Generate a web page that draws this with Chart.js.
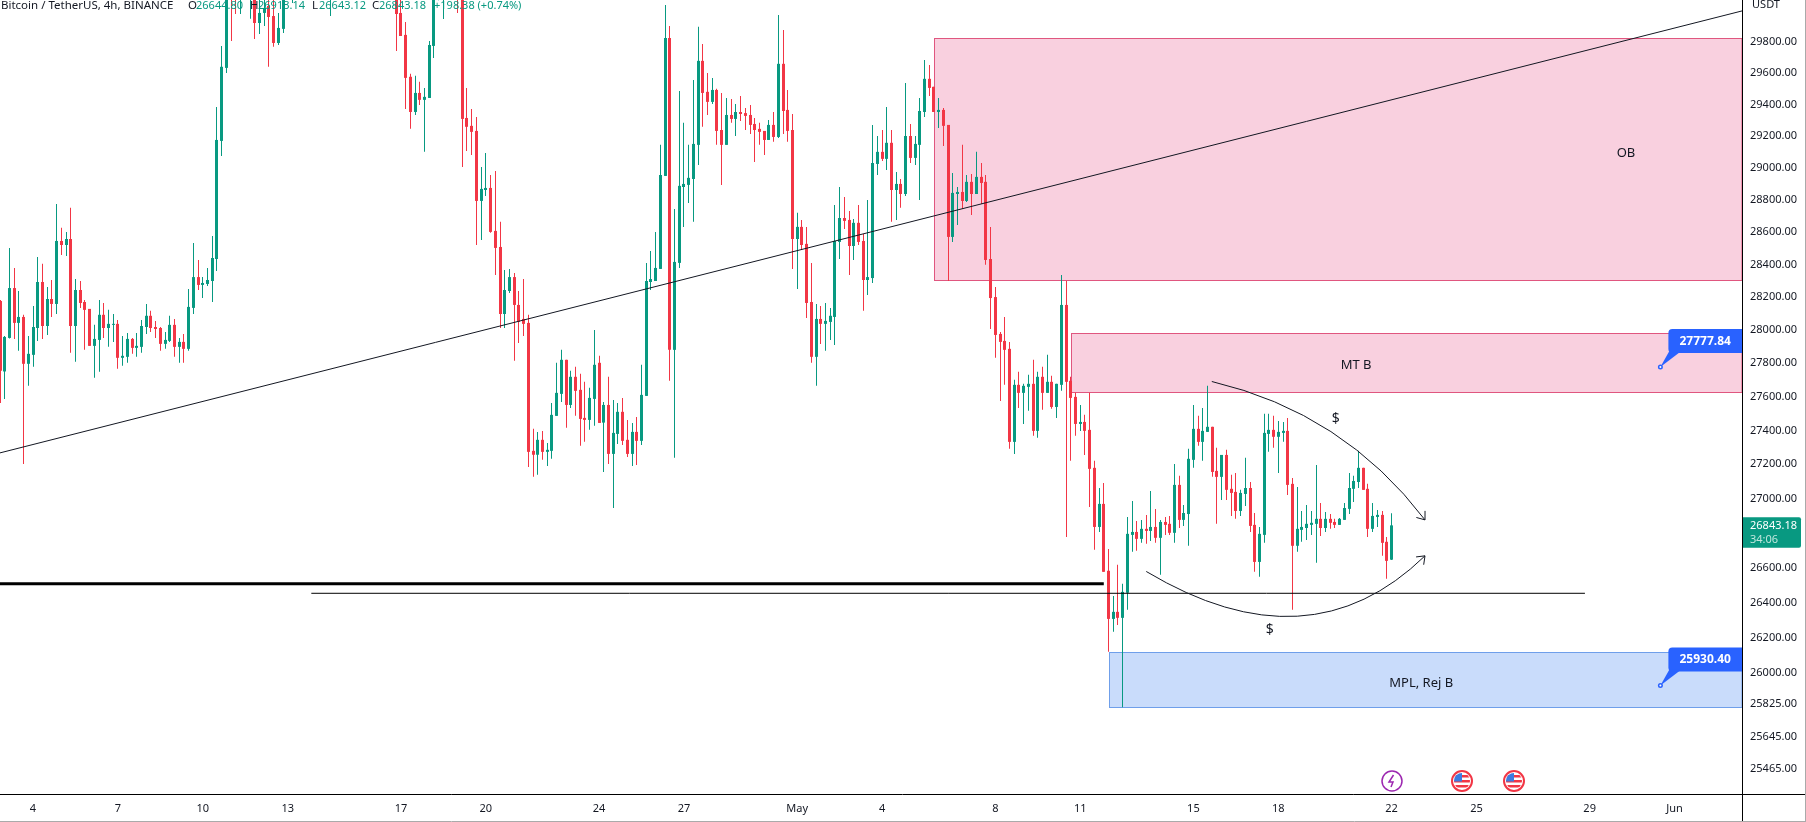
<!DOCTYPE html>
<html>
<head>
<meta charset="utf-8">
<title>BTCUSDT 4h</title>
<script src="https://cdn.jsdelivr.net/npm/chart.js@4"></script>
<style>
  html, body { margin: 0; padding: 0; background: #fff; overflow: hidden; }
  canvas { display: block; }
</style>
</head>
<body>
<canvas id="chart" width="1806" height="822"></canvas>
<script>
// candles, oldest first (values above 30065 sit off the top of the pane)
const opens = [
  28177,27751,27953,28256,28044,28080,27797,27851,28013,28293,
  28025,28189,28159,28545,28520,28557,28025,28244,28171,28129,
  27905,27941,28093,28013,28032,28038,27833,27839,27947,27893,
  27899,28019,28087,28019,28013,27917,27935,28032,27899,27929,
  27887,28135,28323,28275,28281,28299,28434,29169,29633,30250,
  30300,30150,30280,30200,30200,29922,29987,30032,29967,29793,
  29884,30100,30180,30260,30180,30300,30420,30360,30500,30620,
  30300,30480,30380,30450,30360,30520,30660,30820,30620,30450,
  30320,30420,30260,30180,30130,29987,29845,29576,29352,29473,
  29429,29441,29774,30100,30120,30280,30420,30300,30180,29314,
  29264,29232,28793,28861,28874,28607,28508,28098,28238,28323,
  28153,28068,28044,27279,27256,27344,27273,27279,27486,27617,
  27821,27551,27719,27641,27474,27462,27587,27803,27446,27551,
  27261,27379,27510,27344,27261,27391,27338,27605,28293,28299,
  28373,28949,29825,27881,28410,28880,28893,28930,29144,29678,
  29480,29416,29492,29238,29144,29333,29308,29352,29345,29333,
  29276,29245,29232,29175,29270,29194,29659,29365,29238,28557,
  28632,28527,28171,27839,28068,28038,28050,28080,28539,28687,
  28675,28514,28657,28545,28305,28317,29024,29100,29056,29157,
  28861,28899,28836,29200,29062,29144,29352,29563,29512,29352,
  29365,29270,28570,28836,28849,28793,28912,28836,28943,28912,
  28434,28201,27977,27935,27887,27332,27671,27623,27659,27677,
  27397,27719,27623,27689,27539,27671,28153,27695,27599,27438,
  27450,27403,27179,26834,26968,26581,26306,26346,26312,26455,
  26788,26805,26765,26823,26811,26834,26771,26863,26852,26800,
  27079,26875,26909,27226,27409,27332,27391,27421,27161,27126,
  27255,27056,27038,26927,27026,27061,26846,26632,26788,27379,
  27403,27362,27385,27397,27085,26725,26817,26828,26846,26852,
  26881,26828,26881,26863,26846,26875,26939,27056,27096,27179,
  27056,26823,26892,26904,26748,26644.80
];
const highs = [
  28183,27965,28502,28379,28238,28093,27965,28147,28446,28404,
  28262,28305,28774,28626,28601,28750,28311,28299,28183,28129,
  28032,28183,28165,28123,28098,28062,27965,27983,27953,27983,
  28062,28159,28117,28056,28019,27989,28087,28068,27953,27977,
  28250,28533,28428,28323,28379,28576,29384,29774,30200,30300,
  30380,30350,30420,30400,30300,30100,30110,30150,30080,29987,
  30150,30250,30300,30350,30340,30480,30500,30560,30680,30700,
  30560,30600,30520,30560,30600,30720,30900,30950,30700,30550,
  30500,30480,30350,30260,30200,30090,29929,29595,29582,29544,
  29505,29806,30180,30320,30350,30420,30480,30340,30230,29505,
  29371,29320,29005,29093,28955,28980,28663,28367,28373,28348,
  28238,28311,28093,27409,27391,27397,27326,27563,27803,27881,
  27821,27755,27779,27737,27689,27653,28001,27845,27569,27719,
  27581,27563,27593,27462,27444,27480,27791,28410,28483,28601,
  29144,30039,29903,28743,29486,29283,29144,29556,29897,29787,
  29601,29569,29499,29473,29441,29435,29403,29454,29377,29397,
  29314,29283,29232,29301,29352,29974,29877,29492,29339,28719,
  28675,28632,28410,28159,28147,28165,28135,28768,28880,28818,
  28731,28681,28768,28588,28799,29270,29200,29238,29384,29238,
  28974,28930,29537,29276,29200,29441,29684,29652,29512,29441,
  29377,29270,28967,28880,29144,28955,28961,29100,29030,28955,
  28632,28262,27989,28080,27929,27701,27749,27677,27731,27821,
  27749,27779,27851,27725,27677,28336,28299,27719,27623,27551,
  27492,27623,27220,27061,27090,26707,26437,26615,26506,26892,
  26985,26869,26875,26904,27044,26939,26875,26892,26898,27202,
  27132,26962,27291,27551,27486,27533,27665,27421,27297,27255,
  27285,27138,27149,27050,27238,27096,26915,26834,27498,27498,
  27486,27456,27450,27474,27120,27067,26927,26962,26927,27196,
  26973,26921,26909,26881,26886,26973,27149,27132,27279,27179,
  27085,26973,26933,26927,26776,26913.14
];
const lows = [
  27563,27587,27950,27947,27875,27202,27665,27779,27935,27947,
  27971,28080,28098,28459,28453,27863,27809,28135,27881,27905,
  27713,27749,27953,27899,27929,27767,27785,27803,27857,27839,
  27863,27977,27989,27953,27875,27887,27929,27839,27803,27803,
  27875,28098,28244,28195,28268,28171,28361,29074,29601,29806,
  29980,29980,30150,29950,29819,29851,29903,29640,29768,29780,
  29858,30080,30052,30120,30120,30250,30300,30320,30440,30400,
  29967,30300,30320,30300,30300,30480,30600,30560,30400,30250,
  30200,30180,30120,30100,29742,29838,29371,29245,29333,29397,
  29100,29441,29697,30070,29948,30180,30230,29987,29005,29106,
  29081,28520,28551,28824,28595,28336,28013,28013,28226,27815,
  27923,27965,27184,27126,27138,27226,27190,27232,27486,27569,
  27415,27533,27486,27309,27332,27403,27427,27444,27155,27202,
  26944,27320,27314,27243,27190,27196,27314,27605,28244,28299,
  28373,28949,27695,27238,28379,28632,28780,28663,29018,29258,
  29333,29403,29144,28893,29144,29283,29200,29295,29238,29213,
  29037,29144,29081,29175,29163,29188,29213,29163,28373,28250,
  28490,28074,27803,27665,27917,27875,27941,27911,28434,28619,
  28336,28428,28520,28117,28214,28287,28955,29043,28986,28663,
  28675,28750,28824,29030,29018,28799,29320,29454,29352,29251,
  29137,28299,28539,28644,28743,28787,28706,28836,28774,28398,
  28007,27833,27575,27671,27291,27261,27533,27438,27516,27368,
  27356,27522,27623,27528,27474,27635,26776,27220,27368,27397,
  27255,26950,26702,26805,26575,26120,26233,26272,25808,26358,
  26690,26696,26742,26736,26753,26742,26558,26788,26788,26742,
  26828,26840,26725,27179,27309,27220,27391,27126,26852,26991,
  26991,26898,26881,26898,26956,26805,26575,26546,26742,27273,
  27297,27149,27332,27020,26358,26690,26748,26759,26788,26627,
  26782,26805,26823,26828,26846,26875,26909,26979,27061,27050,
  26776,26805,26834,26667,26535,26643.12
];
const closes = [
  27755,27959,28256,28044,28080,27797,27857,28019,28293,28025,
  28189,28159,28545,28520,28557,28025,28244,28165,28123,27905,
  27947,28093,28013,28038,28038,27833,27845,27947,27893,27905,
  28025,28087,28013,28007,27917,27941,28032,27899,27929,27887,
  28141,28323,28275,28287,28305,28440,29175,29640,30100,30120,
  30150,30280,30350,30350,29922,29987,30019,29961,29793,29890,
  30100,30200,30250,30180,30300,30420,30360,30500,30620,30480,
  30480,30380,30450,30360,30520,30660,30820,30620,30450,30320,
  30420,30260,30180,30130,29980,29838,29569,29352,29473,29429,
  29448,29780,30100,30250,30280,30350,30300,30180,29308,29258,
  29226,28793,28868,28874,28601,28502,28098,28244,28323,28153,
  28050,28038,27273,27256,27344,27273,27285,27492,27623,27821,
  27551,27719,27635,27468,27462,27593,27791,27444,27551,27261,
  27385,27510,27338,27261,27391,27338,27611,28299,28311,28379,
  28955,29825,27881,28416,28887,28899,28937,29150,29678,29473,
  29416,29492,29232,29144,29333,29308,29352,29339,29327,29270,
  29238,29226,29175,29270,29194,29659,29358,29232,28557,28632,
  28520,28165,27839,28068,28038,28056,28087,28545,28687,28669,
  28514,28657,28539,28305,28323,29030,29100,29056,29157,28861,
  28899,28836,29200,29062,29150,29358,29563,29505,29352,29365,
  29264,28570,28843,28849,28793,28912,28836,28943,28905,28428,
  28195,27971,27929,27881,27332,27671,27623,27665,27677,27397,
  27719,27623,27689,27539,27677,28153,27689,27593,27438,27450,
  27397,27173,26834,26968,26575,26306,26346,26312,26460,26794,
  26805,26765,26823,26811,26834,26771,26863,26846,26800,27079,
  26875,26915,27232,27409,27332,27397,27421,27155,27126,27255,
  27050,27032,26927,27032,27061,26840,26632,26794,27385,27403,
  27362,27391,27397,27079,26725,26823,26834,26852,26858,26881,
  26828,26881,26858,26846,26881,26944,27061,27102,27179,27050,
  26823,26898,26904,26742,26638,26843.18
];

// axis ticks (x is the candle number, 6 candles a day)
const xTickValues = [7, 25, 43, 61, 85, 103, 127, 145, 169, 187, 211, 229, 253, 271, 295, 313, 337, 355];
const xTickLabels = ["4", "7", "10", "13", "17", "20", "24", "27", "May", "4", "8", "11", "15", "18", "22", "25", "29", "Jun"];
const yTickValues = [25465, 25645, 25825, 26000, 26200, 26400, 26600, 27000, 27200, 27400, 27600, 27800, 28000, 28200, 28400, 28600, 28800, 29000, 29200, 29400, 29600, 29800];

// drawings on the chart
const zoneLabels = ["OB", "MT B", "MPL, Rej B"];
const zoneStarts = [198.1, 227.1, 235];
const zoneTops = [29825, 27981, 26117];
const zoneBottoms = [28305, 27629, 25808];
const zoneTextX = [344.7, 287.5, 301.3];
const zoneTextPrice = [29090, 27786, 25941];
const trendX = [0, 369.3];
const trendY = [27267, 30000];
const thickLevelX = [0, 234];
const thickLevelY = [26506, 26506];
const thinLevelX = [66, 336];
const thinLevelY = [26452, 26452];
const curveStartX = [256.9, 243];
const curveStartY = [27691, 26577];
const curveCtrlX = [284.8, 277.5];
const curveCtrlY = [27506, 26024];
const curveEndX = [302.1, 302.1];
const curveEndY = [26875, 26667];
const dollarX = [283.2, 269.2];
const dollarY = [27468, 26245];
const calloutX = [352, 352];
const calloutPrice = [27777.84, 25930.40];
const eventX = [295, 310, 321];
const eventKind = ["bolt", "us", "us"];

const lastPrice = "26843.18";
const countdown = "34:06";
const titleText = "Bitcoin / TetherUS, 4h, BINANCE";
const ohlcNames = ["O", "H", "L", "C"];
const ohlcValues = ["26644.80", "26913.14", "26643.12", "26843.18"];
const changeText = "+198.38 (+0.74%)";

const UP = "#089981";
const DOWN = "#F23645";
const TEXT = "#131722";
const FONT = '"Noto Sans", sans-serif';

const candleColors = opens.map((o, i) => (closes[i] >= o ? UP : DOWN));

// snap the bars to whole pixels so that the wicks stay 1px sharp
const snapBars = {
  id: "snapBars",
  beforeDatasetsDraw(chart) {
    [0, 1].forEach((index) => {
      chart.getDatasetMeta(index).data.forEach((bar) => {
        bar.x = Math.floor(bar.x) + 0.5;
      });
    });
  },
};

const px = (chart, v) => chart.scales.x.getPixelForValue(v);
const py = (chart, v) => chart.scales.y.getPixelForValue(v);

const drawText = (ctx, text, x, y, font, color, align) => {
  ctx.font = font;
  ctx.fillStyle = color;
  ctx.textAlign = align || "center";
  ctx.textBaseline = "middle";
  ctx.fillText(text, x, y);
};

// pink and blue boxes go under the candles
const zonesBehind = {
  id: "zonesBehind",
  beforeDatasetsDraw(chart) {
    const { ctx, chartArea } = chart;
    ctx.save();
    zoneLabels.forEach((label, i) => {
      const left = Math.round(px(chart, zoneStarts[i])) + 0.5;
      const top = Math.round(py(chart, zoneTops[i])) + 0.5;
      const bottom = Math.round(py(chart, zoneBottoms[i])) + 0.5;
      const isBlue = i === 2;
      ctx.fillStyle = isBlue ? "#C9DCFB" : "#F9D0DF";
      ctx.strokeStyle = isBlue ? "#6F9FEA" : "#E0567F";
      ctx.lineWidth = 1;
      ctx.fillRect(left, top, chartArea.right - left, bottom - top);
      ctx.strokeRect(left, top, chartArea.right - left, bottom - top);
    });
    ctx.restore();
  },
};

const drawCurve = (chart, i) => {
  const { ctx } = chart;
  const x0 = px(chart, curveStartX[i]);
  const y0 = py(chart, curveStartY[i]);
  const cx = px(chart, curveCtrlX[i]);
  const cy = py(chart, curveCtrlY[i]);
  const x1 = px(chart, curveEndX[i]);
  const y1 = py(chart, curveEndY[i]);
  ctx.beginPath();
  ctx.moveTo(x0, y0);
  ctx.quadraticCurveTo(cx, cy, x1, y1);
  ctx.stroke();
  // arrow head
  const angle = Math.atan2(y1 - cy, x1 - cx);
  [-0.65, 0.65].forEach((spread) => {
    ctx.beginPath();
    ctx.moveTo(x1, y1);
    ctx.lineTo(x1 - 9 * Math.cos(angle + spread), y1 - 9 * Math.sin(angle + spread));
    ctx.stroke();
  });
};

const drawCallout = (chart, i) => {
  const { ctx, chartArea } = chart;
  const dotX = px(chart, calloutX[i]);
  const dotY = py(chart, calloutPrice[i]);
  const right = chartArea.right;
  const boxTop = dotY - 38;
  const boxBottom = dotY - 14;
  ctx.fillStyle = "#2962FF";
  ctx.beginPath();
  ctx.roundRect(dotX + 8, boxTop, right - dotX - 8, boxBottom - boxTop, [4, 0, 0, 4]);
  ctx.fill();
  ctx.beginPath();
  ctx.moveTo(dotX + 9, boxBottom - 2);
  ctx.lineTo(dotX + 21, boxBottom - 2);
  ctx.lineTo(dotX, dotY);
  ctx.closePath();
  ctx.fill();
  ctx.beginPath();
  ctx.arc(dotX, dotY, 2.5, 0, Math.PI * 2);
  ctx.fill();
  ctx.fillStyle = "#fff";
  ctx.beginPath();
  ctx.arc(dotX, dotY, 1, 0, Math.PI * 2);
  ctx.fill();
  drawText(ctx, calloutPrice[i].toFixed(2), (dotX + 8 + right) / 2, boxTop + 12.5, `bold 12px ${FONT}`, "#fff");
};

const drawEvent = (chart, i) => {
  const { ctx } = chart;
  const x = Math.round(px(chart, eventX[i]));
  const y = 781;
  ctx.lineWidth = 1.5;
  ctx.beginPath();
  ctx.arc(x, y, 10, 0, Math.PI * 2);
  ctx.fillStyle = "#fff";
  ctx.fill();
  if (eventKind[i] === "bolt") {
    ctx.strokeStyle = "#9C27B0";
    ctx.stroke();
    ctx.beginPath();
    ctx.moveTo(x + 1.5, y - 6);
    ctx.lineTo(x - 3, y + 1);
    ctx.lineTo(x + 1, y + 1);
    ctx.lineTo(x - 1, y + 6);
    ctx.stroke();
    return;
  }
  ctx.strokeStyle = DOWN;
  ctx.lineWidth = 2;
  ctx.stroke();
  ctx.save();
  ctx.beginPath();
  ctx.arc(x, y, 8, 0, Math.PI * 2);
  ctx.clip();
  ctx.fillStyle = DOWN;
  ctx.fillRect(x - 8, y - 6, 16, 2.5);
  ctx.fillRect(x - 8, y - 1, 16, 2.5);
  ctx.fillRect(x - 8, y + 4, 16, 2.5);
  ctx.fillStyle = "#3D7BE0";
  ctx.fillRect(x - 8, y - 8, 8, 8.5);
  ctx.restore();
};

// everything that sits on top of the candles, plus the frame and header
const overlays = {
  id: "overlays",
  afterDatasetsDraw(chart) {
    const { ctx, chartArea, width, height } = chart;
    ctx.save();
    ctx.beginPath();
    ctx.rect(0, 0, chartArea.right, chartArea.bottom);
    ctx.clip();

    ctx.strokeStyle = "#131722";
    ctx.lineWidth = 1;
    curveStartX.forEach((_, i) => drawCurve(chart, i));

    zoneLabels.forEach((label, i) => {
      drawText(ctx, label, px(chart, zoneTextX[i]), py(chart, zoneTextPrice[i]), `13px ${FONT}`, TEXT);
    });
    dollarX.forEach((x, i) => {
      drawText(ctx, "$", px(chart, x), py(chart, dollarY[i]), `14px ${FONT}`, TEXT);
    });
    eventX.forEach((_, i) => drawEvent(chart, i));

    // header, it is written over the candles
    drawText(ctx, titleText, 1, 6, `11.5px ${FONT}`, TEXT, "left");
    const nameX = [188, 250, 312, 372];
    const valueX = [196, 258, 319, 379];
    ohlcNames.forEach((name, i) => {
      drawText(ctx, name, nameX[i], 6, `11.5px ${FONT}`, TEXT, "left");
      drawText(ctx, ohlcValues[i], valueX[i], 6, `11px ${FONT}`, UP, "left");
    });
    drawText(ctx, changeText, 434, 6, `11px ${FONT}`, UP, "left");
    ctx.restore();

    calloutX.forEach((_, i) => drawCallout(chart, i));

    // frame
    ctx.save();
    ctx.strokeStyle = "#000";
    ctx.lineWidth = 1;
    ctx.beginPath();
    ctx.moveTo(chartArea.right + 0.5, 0);
    ctx.lineTo(chartArea.right + 0.5, height);
    ctx.moveTo(0, chartArea.bottom + 0.5);
    ctx.lineTo(width - 1, chartArea.bottom + 0.5);
    ctx.stroke();
    ctx.strokeStyle = "#AAAAAA";
    ctx.beginPath();
    ctx.moveTo(width - 0.5, 0);
    ctx.lineTo(width - 0.5, height);
    ctx.moveTo(0, height - 0.5);
    ctx.lineTo(width, height - 0.5);
    ctx.stroke();

    drawText(ctx, "USDT", 1766, 5, `11px ${FONT}`, TEXT);

    // last price tag
    const tagY = py(chart, closes[closes.length - 1]);
    ctx.fillStyle = UP;
    ctx.beginPath();
    ctx.roundRect(chartArea.right + 1, tagY - 8, 58, 30.5, [0, 2, 2, 0]);
    ctx.fill();
    drawText(ctx, lastPrice, 1750, tagY + 0.5, `11px ${FONT}`, "#fff", "left");
    drawText(ctx, countdown, 1750, tagY + 14, `11px ${FONT}`, "#BFE6DD", "left");
    ctx.restore();
  },
};

// y axis padding would push the pane down, so it is dropped after the fit
const fitAxis = (size, key) => (scale) => {
  scale[key] = size;
  scale.paddingTop = 0;
  scale.paddingBottom = 0;
  scale.paddingLeft = 0;
  scale.paddingRight = 0;
};

const indexes = opens.map((_, i) => i);

const config = {
  type: "bar",
  data: {
    datasets: [
      {
        label: "wicks",
        data: indexes.map((i) => ({ x: i, y: [lows[i], highs[i]] })),
        backgroundColor: candleColors,
        barThickness: 1,
        grouped: false,
        inflateAmount: 0,
        order: 3,
      },
      {
        label: "bodies",
        data: indexes.map((i) => ({ x: i, y: [opens[i], closes[i]] })),
        backgroundColor: candleColors,
        barThickness: 3,
        minBarLength: 1,
        grouped: false,
        inflateAmount: 0,
        order: 2,
      },
      {
        type: "line",
        label: "trend",
        data: trendX.map((x, i) => ({ x: x, y: trendY[i] })),
        borderColor: "#131722",
        borderWidth: 1,
        pointRadius: 0,
        order: 1,
      },
      {
        type: "line",
        label: "thick level",
        data: thickLevelX.map((x, i) => ({ x: x, y: thickLevelY[i] })),
        borderColor: "#000",
        borderWidth: 3,
        pointRadius: 0,
        order: 1,
      },
      {
        type: "line",
        label: "thin level",
        data: thinLevelX.map((x, i) => ({ x: x, y: thinLevelY[i] })),
        borderColor: "#000",
        borderWidth: 1,
        pointRadius: 0,
        order: 1,
      },
    ],
  },
  options: {
    responsive: false,
    animation: false,
    devicePixelRatio: 1,
    layout: { padding: 0 },
    plugins: { legend: { display: false }, tooltip: { enabled: false } },
    events: [],
    scales: {
      x: {
        type: "linear",
        offset: false,
        min: 0,
        max: 369.3,
        bounds: "data",
        grid: { display: false, drawTicks: false },
        border: { display: false },
        afterBuildTicks: (scale) => {
          scale.ticks = xTickValues.map((v) => ({ value: v }));
        },
        afterFit: fitAxis(28, "height"),
        ticks: {
          autoSkip: false,
          maxRotation: 0,
          padding: 8,
          color: TEXT,
          font: { family: "Noto Sans", size: 11 },
          callback: (v) => xTickLabels[xTickValues.indexOf(v)],
        },
      },
      y: {
        type: "logarithmic",
        position: "right",
        min: 25329,
        max: 30071,
        bounds: "data",
        grid: { display: false, drawTicks: false },
        border: { display: false },
        afterBuildTicks: (scale) => {
          scale.ticks = yTickValues.map((v) => ({ value: v }));
        },
        afterFit: fitAxis(64, "width"),
        ticks: {
          autoSkip: false,
          padding: 8,
          color: TEXT,
          font: { family: "Noto Sans", size: 11 },
          callback: (v) => Number(v).toFixed(2),
        },
      },
    },
  },
  plugins: [zonesBehind, snapBars, overlays],
};

new Chart(document.querySelector("#chart"), config);
</script>
</body>
</html>
